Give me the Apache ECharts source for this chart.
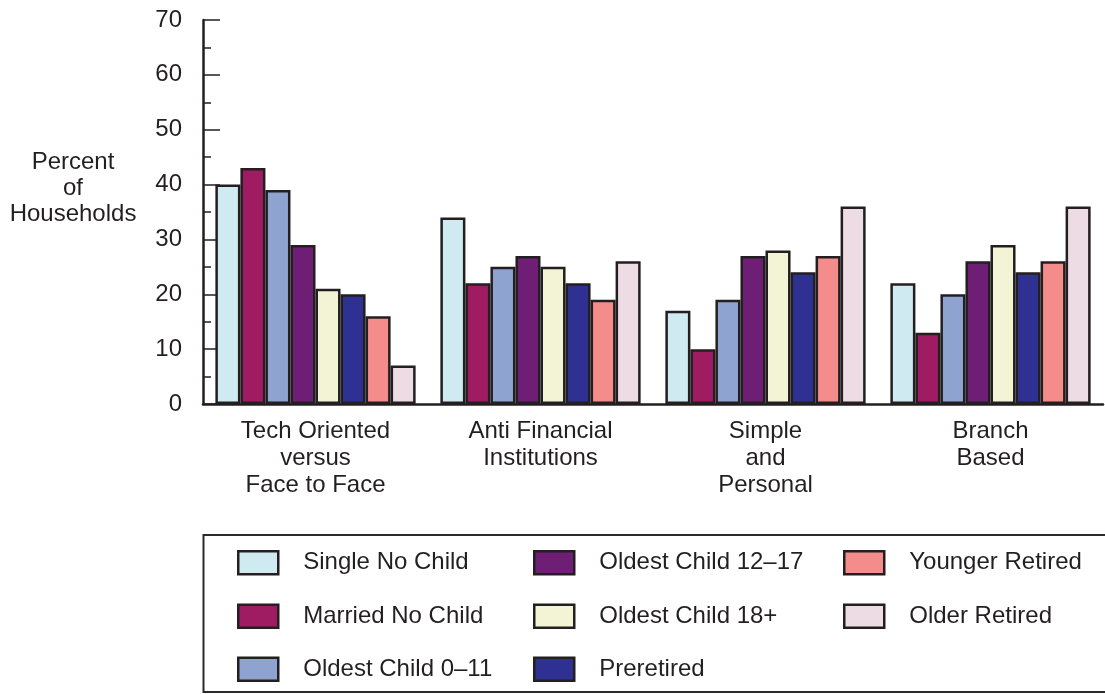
<!DOCTYPE html>
<html><head><meta charset="utf-8">
<script src="https://cdn.jsdelivr.net/npm/echarts@6/dist/echarts.min.js"></script>
<style>html,body{margin:0;padding:0;background:#fff}#c{width:1105px;height:694px}</style>
</head><body><div id="c"></div>
<script>
const categories = ['Tech Oriented\nversus\nFace to Face', 'Anti Financial\nInstitutions', 'Simple\nand\nPersonal', 'Branch\nBased'];
const seriesNames = ['Single No Child', 'Married No Child', 'Oldest Child 0–11', 'Oldest Child 12–17', 'Oldest Child 18+', 'Preretired', 'Younger Retired', 'Older Retired'];
const singleNoChild   = [40, 34, 17, 22];
const marriedNoChild  = [43, 22, 10, 13];
const oldestChild0_11 = [39, 25, 19, 20];
const oldestChild12_17= [29, 27, 27, 26];
const oldestChild18p  = [21, 25, 28, 29];
const preretired      = [20, 22, 24, 24];
const youngerRetired  = [16, 19, 27, 26];
const olderRetired    = [7, 26, 36, 36];
const yTicks = [0, 10, 20, 30, 40, 50, 60, 70];

const values = [singleNoChild, marriedNoChild, oldestChild0_11, oldestChild12_17, oldestChild18p, preretired, youngerRetired, olderRetired];
const colors = ['#CFEAF0', '#A01C62', '#8FA3D1', '#6E1F75', '#F3F3D5', '#2E3192', '#F48C8C', '#EDDCE3'];
const ink = '#231F20';
const font = 'Liberation Sans, Arial, Helvetica, sans-serif';

// legend layout: column-major, 3 rows
const legendCols = [237, 533, 843];
const legendRows = [550, 603.5, 656.5];
const legends = seriesNames.map((n, i) => ({
  data: [n], orient: 'horizontal', padding: 0,
  left: legendCols[Math.floor(i / 3)], top: legendRows[i % 3],
  itemWidth: 40, itemHeight: 23, icon: 'rect',
  itemStyle: { borderColor: ink, borderWidth: 2.5 },
  textStyle: { fontFamily: font, fontSize: 24, color: ink, lineHeight: 23, padding: [0, 0, 0, 20] },
  selectedMode: false
}));

const chart = echarts.init(document.getElementById('c'));
chart.setOption({
  animation: false,
  textStyle: { fontFamily: font },
  color: colors,
  grid: { left: 203, right: 2, top: 20, bottom: 290, containLabel: false },
  graphic: [
    { type: 'rect', shape: { x: 203.5, y: 535, width: 910, height: 157 }, style: { fill: 'none', stroke: '#2a2a2a', lineWidth: 2 } },
    { type: 'text', x: 73, y: 149, style: { text: 'Percent\nof\nHouseholds', fontFamily: font, fontSize: 24, fill: ink, align: 'center', verticalAlign: 'top', lineHeight: 26 } }
  ],
  legend: legends,
  xAxis: {
    type: 'category', data: categories,
    axisLine: { lineStyle: { color: ink, width: 2.5 } },
    axisTick: { show: false },
    axisLabel: { fontFamily: font, fontSize: 24, color: ink, lineHeight: 27, margin: 14, interval: 0 }
  },
  yAxis: {
    type: 'value', min: 0, max: 70, interval: 10,
    axisLine: { show: true, lineStyle: { color: ink, width: 2.5 } },
    axisTick: { show: true, inside: true, length: 17, lineStyle: { color: ink, width: 1.5 } },
    minorTick: { show: true, splitNumber: 2, length: 8, lineStyle: { color: ink, width: 1.5 } },
    splitLine: { show: false },
    axisLabel: { fontFamily: font, fontSize: 24, color: ink, margin: 21,
      formatter: v => yTicks.includes(v) ? String(v) : '' }
  },
  series: seriesNames.map((n, i) => ({
    name: n, type: 'bar', data: values[i],
    barGap: '0%', barCategoryGap: '11%',
    itemStyle: { color: colors[i], borderColor: ink, borderWidth: 2.5 }
  }))
});
</script></body></html>
